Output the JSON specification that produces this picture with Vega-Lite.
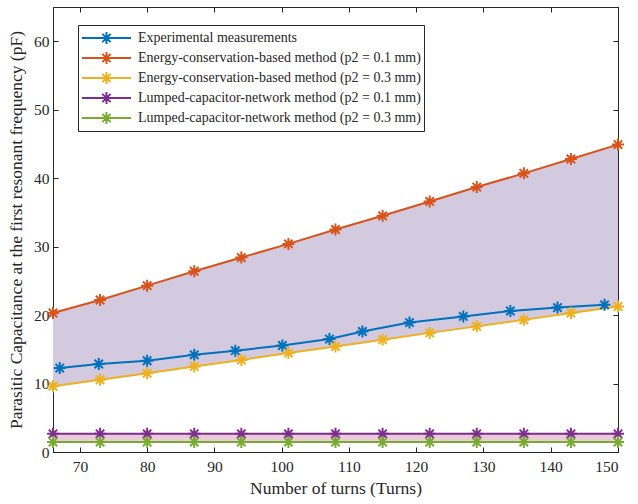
{
  "$schema": "https://vega.github.io/schema/vega-lite/v6.json",
  "width": 565,
  "height": 445,
  "autosize": "none",
  "padding": {"left": 53, "top": 7, "right": 20, "bottom": 52},
  "background": "white",
  "config": {
    "font": "Liberation Serif",
    "view": {"stroke": "#262626", "strokeWidth": 1},
    "axis": {
      "grid": false,
      "domainColor": "#262626",
      "tickColor": "#262626",
      "labelColor": "#262626",
      "titleColor": "#262626",
      "labelFont": "Liberation Serif",
      "titleFont": "Liberation Serif",
      "labelFontSize": 15.5,
      "titleFontSize": 17.5,
      "titleFontWeight": "normal",
      "tickSize": -5,
      "domainWidth": 1,
      "tickWidth": 1
    }
  },
  "datasets": {
    "bands": [
      {"x": 66, "ec1": 20.3, "ec3": 9.6, "lc1": 2.65, "lc3": 1.45},
      {"x": 73, "ec1": 22.2, "ec3": 10.55, "lc1": 2.65, "lc3": 1.45},
      {"x": 80, "ec1": 24.3, "ec3": 11.5, "lc1": 2.65, "lc3": 1.45},
      {"x": 87, "ec1": 26.4, "ec3": 12.5, "lc1": 2.65, "lc3": 1.45},
      {"x": 94, "ec1": 28.4, "ec3": 13.45, "lc1": 2.65, "lc3": 1.45},
      {"x": 101, "ec1": 30.4, "ec3": 14.45, "lc1": 2.65, "lc3": 1.45},
      {"x": 108, "ec1": 32.5, "ec3": 15.4, "lc1": 2.65, "lc3": 1.45},
      {"x": 115, "ec1": 34.5, "ec3": 16.4, "lc1": 2.65, "lc3": 1.45},
      {"x": 122, "ec1": 36.6, "ec3": 17.4, "lc1": 2.65, "lc3": 1.45},
      {"x": 129, "ec1": 38.7, "ec3": 18.35, "lc1": 2.65, "lc3": 1.45},
      {"x": 136, "ec1": 40.7, "ec3": 19.3, "lc1": 2.65, "lc3": 1.45},
      {"x": 143, "ec1": 42.8, "ec3": 20.3, "lc1": 2.65, "lc3": 1.45},
      {"x": 150, "ec1": 44.9, "ec3": 21.25, "lc1": 2.65, "lc3": 1.45}
    ],
    "series": [
      {"series": "Experimental measurements", "x": 67, "y": 12.26},
      {"series": "Experimental measurements", "x": 72.8, "y": 12.85},
      {"series": "Experimental measurements", "x": 80, "y": 13.33},
      {"series": "Experimental measurements", "x": 87, "y": 14.2},
      {"series": "Experimental measurements", "x": 93.1, "y": 14.8},
      {"series": "Experimental measurements", "x": 100.1, "y": 15.56},
      {"series": "Experimental measurements", "x": 107.1, "y": 16.5},
      {"series": "Experimental measurements", "x": 112, "y": 17.6},
      {"series": "Experimental measurements", "x": 119, "y": 18.9},
      {"series": "Experimental measurements", "x": 127, "y": 19.8},
      {"series": "Experimental measurements", "x": 134, "y": 20.6},
      {"series": "Experimental measurements", "x": 141, "y": 21.1},
      {"series": "Experimental measurements", "x": 148, "y": 21.5},
      {"series": "Energy-conservation-based method (p2 = 0.1 mm)", "x": 66, "y": 20.3},
      {"series": "Energy-conservation-based method (p2 = 0.1 mm)", "x": 73, "y": 22.2},
      {"series": "Energy-conservation-based method (p2 = 0.1 mm)", "x": 80, "y": 24.3},
      {"series": "Energy-conservation-based method (p2 = 0.1 mm)", "x": 87, "y": 26.4},
      {"series": "Energy-conservation-based method (p2 = 0.1 mm)", "x": 94, "y": 28.4},
      {"series": "Energy-conservation-based method (p2 = 0.1 mm)", "x": 101, "y": 30.4},
      {"series": "Energy-conservation-based method (p2 = 0.1 mm)", "x": 108, "y": 32.5},
      {"series": "Energy-conservation-based method (p2 = 0.1 mm)", "x": 115, "y": 34.5},
      {"series": "Energy-conservation-based method (p2 = 0.1 mm)", "x": 122, "y": 36.6},
      {"series": "Energy-conservation-based method (p2 = 0.1 mm)", "x": 129, "y": 38.7},
      {"series": "Energy-conservation-based method (p2 = 0.1 mm)", "x": 136, "y": 40.7},
      {"series": "Energy-conservation-based method (p2 = 0.1 mm)", "x": 143, "y": 42.8},
      {"series": "Energy-conservation-based method (p2 = 0.1 mm)", "x": 150, "y": 44.9},
      {"series": "Energy-conservation-based method (p2 = 0.3 mm)", "x": 66, "y": 9.6},
      {"series": "Energy-conservation-based method (p2 = 0.3 mm)", "x": 73, "y": 10.55},
      {"series": "Energy-conservation-based method (p2 = 0.3 mm)", "x": 80, "y": 11.5},
      {"series": "Energy-conservation-based method (p2 = 0.3 mm)", "x": 87, "y": 12.5},
      {"series": "Energy-conservation-based method (p2 = 0.3 mm)", "x": 94, "y": 13.45},
      {"series": "Energy-conservation-based method (p2 = 0.3 mm)", "x": 101, "y": 14.45},
      {"series": "Energy-conservation-based method (p2 = 0.3 mm)", "x": 108, "y": 15.4},
      {"series": "Energy-conservation-based method (p2 = 0.3 mm)", "x": 115, "y": 16.4},
      {"series": "Energy-conservation-based method (p2 = 0.3 mm)", "x": 122, "y": 17.4},
      {"series": "Energy-conservation-based method (p2 = 0.3 mm)", "x": 129, "y": 18.35},
      {"series": "Energy-conservation-based method (p2 = 0.3 mm)", "x": 136, "y": 19.3},
      {"series": "Energy-conservation-based method (p2 = 0.3 mm)", "x": 143, "y": 20.3},
      {"series": "Energy-conservation-based method (p2 = 0.3 mm)", "x": 150, "y": 21.25},
      {"series": "Lumped-capacitor-network method (p2 = 0.1 mm)", "x": 66, "y": 2.65},
      {"series": "Lumped-capacitor-network method (p2 = 0.1 mm)", "x": 73, "y": 2.65},
      {"series": "Lumped-capacitor-network method (p2 = 0.1 mm)", "x": 80, "y": 2.65},
      {"series": "Lumped-capacitor-network method (p2 = 0.1 mm)", "x": 87, "y": 2.65},
      {"series": "Lumped-capacitor-network method (p2 = 0.1 mm)", "x": 94, "y": 2.65},
      {"series": "Lumped-capacitor-network method (p2 = 0.1 mm)", "x": 101, "y": 2.65},
      {"series": "Lumped-capacitor-network method (p2 = 0.1 mm)", "x": 108, "y": 2.65},
      {"series": "Lumped-capacitor-network method (p2 = 0.1 mm)", "x": 115, "y": 2.65},
      {"series": "Lumped-capacitor-network method (p2 = 0.1 mm)", "x": 122, "y": 2.65},
      {"series": "Lumped-capacitor-network method (p2 = 0.1 mm)", "x": 129, "y": 2.65},
      {"series": "Lumped-capacitor-network method (p2 = 0.1 mm)", "x": 136, "y": 2.65},
      {"series": "Lumped-capacitor-network method (p2 = 0.1 mm)", "x": 143, "y": 2.65},
      {"series": "Lumped-capacitor-network method (p2 = 0.1 mm)", "x": 150, "y": 2.65},
      {"series": "Lumped-capacitor-network method (p2 = 0.3 mm)", "x": 66, "y": 1.45},
      {"series": "Lumped-capacitor-network method (p2 = 0.3 mm)", "x": 73, "y": 1.45},
      {"series": "Lumped-capacitor-network method (p2 = 0.3 mm)", "x": 80, "y": 1.45},
      {"series": "Lumped-capacitor-network method (p2 = 0.3 mm)", "x": 87, "y": 1.45},
      {"series": "Lumped-capacitor-network method (p2 = 0.3 mm)", "x": 94, "y": 1.45},
      {"series": "Lumped-capacitor-network method (p2 = 0.3 mm)", "x": 101, "y": 1.45},
      {"series": "Lumped-capacitor-network method (p2 = 0.3 mm)", "x": 108, "y": 1.45},
      {"series": "Lumped-capacitor-network method (p2 = 0.3 mm)", "x": 115, "y": 1.45},
      {"series": "Lumped-capacitor-network method (p2 = 0.3 mm)", "x": 122, "y": 1.45},
      {"series": "Lumped-capacitor-network method (p2 = 0.3 mm)", "x": 129, "y": 1.45},
      {"series": "Lumped-capacitor-network method (p2 = 0.3 mm)", "x": 136, "y": 1.45},
      {"series": "Lumped-capacitor-network method (p2 = 0.3 mm)", "x": 143, "y": 1.45},
      {"series": "Lumped-capacitor-network method (p2 = 0.3 mm)", "x": 150, "y": 1.45}
    ]
  },
  "layer": [
    {
      "data": {"name": "bands"},
      "mark": {"type": "area", "color": "#d4cadf", "opacity": 1},
      "encoding": {
        "x": {
          "field": "x", "type": "quantitative",
          "scale": {"domain": [66, 150], "nice": false, "zero": false},
          "axis": {"orient": "bottom", "values": [70, 80, 90, 100, 110, 120, 130, 140, 150], "title": "Number of turns (Turns)", "labelPadding": 12, "titlePadding": 5}
        },
        "y": {
          "field": "ec1", "type": "quantitative",
          "scale": {"domain": [0, 65], "nice": false},
          "axis": {"orient": "left", "values": [0, 10, 20, 30, 40, 50, 60], "title": "Parasitic Capacitance at the first resonant frequency (pF)", "labelPadding": 9, "titlePadding": 8}
        },
        "y2": {"field": "ec3"}
      }
    },
    {
      "data": {"name": "bands"},
      "mark": {"type": "area", "color": "#eacbd8", "opacity": 1},
      "encoding": {
        "x": {
          "field": "x", "type": "quantitative",
          "axis": {"orient": "top", "values": [70, 80, 90, 100, 110, 120, 130, 140, 150], "labels": false, "title": null}
        },
        "y": {
          "field": "lc1", "type": "quantitative",
          "axis": {"orient": "right", "values": [0, 10, 20, 30, 40, 50, 60], "labels": false, "title": null}
        },
        "y2": {"field": "lc3"}
      }
    },
    {
      "data": {"name": "series"},
      "mark": {"type": "line", "strokeWidth": 2},
      "encoding": {
        "x": {"field": "x", "type": "quantitative", "axis": null},
        "y": {"field": "y", "type": "quantitative", "axis": null},
        "color": {
          "field": "series", "type": "nominal",
          "scale": {
            "domain": ["Experimental measurements", "Energy-conservation-based method (p2 = 0.1 mm)", "Energy-conservation-based method (p2 = 0.3 mm)", "Lumped-capacitor-network method (p2 = 0.1 mm)", "Lumped-capacitor-network method (p2 = 0.3 mm)"],
            "range": ["#0072BD", "#D95319", "#EDB120", "#7E2F8E", "#77AC30"]
          },
          "legend": {
            "orient": "none", "legendX": 25, "legendY": 18, "title": null,
            "padding": 3, "strokeColor": "#262626", "fillColor": "white",
            "symbolType": "M-1,0H1M0,-0.24V0.24M-0.24,0H0.24M-0.17,-0.17L0.17,0.17M-0.17,0.17L0.17,-0.17",
            "symbolSize": 2400, "symbolStrokeWidth": 2, "symbolFillColor": "transparent",
            "clipHeight": 20, "rowPadding": 0, "labelOffset": 6, "labelLimit": 0,
            "labelFont": "Liberation Serif", "labelFontSize": 14, "labelColor": "#262626"
          }
        }
      }
    },
    {
      "data": {"name": "series"},
      "mark": {"type": "point", "shape": "M-1,0H1M0,-1V1M-0.7,-0.7L0.7,0.7M-0.7,0.7L0.7,-0.7", "filled": false, "size": 144, "strokeWidth": 2, "opacity": 1},
      "encoding": {
        "x": {"field": "x", "type": "quantitative", "axis": null},
        "y": {"field": "y", "type": "quantitative", "axis": null},
        "color": {
          "field": "series", "type": "nominal",
          "legend": {
            "orient": "none", "legendX": 25, "legendY": 18, "title": null,
            "padding": 3, "strokeColor": "#262626", "fillColor": "white",
            "symbolType": "M-1,0H1M0,-0.24V0.24M-0.24,0H0.24M-0.17,-0.17L0.17,0.17M-0.17,0.17L0.17,-0.17",
            "symbolSize": 2400, "symbolStrokeWidth": 2, "symbolFillColor": "transparent",
            "clipHeight": 20, "rowPadding": 0, "labelOffset": 6, "labelLimit": 0,
            "labelFont": "Liberation Serif", "labelFontSize": 14, "labelColor": "#262626"
          }
        }
      }
    }
  ],
  "resolve": {"axis": {"x": "independent", "y": "independent"}}
}
